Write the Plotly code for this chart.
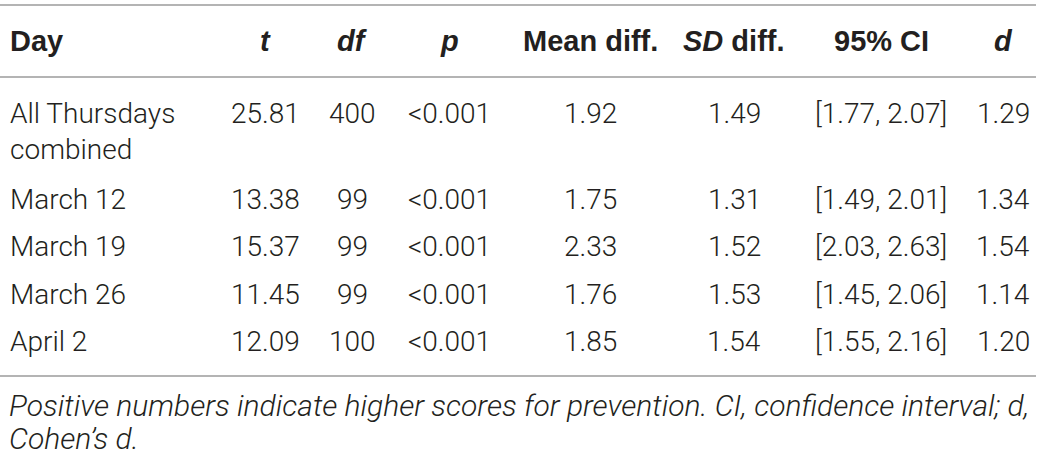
import plotly.graph_objects as go

# Table content
headers = ["Day", "<i>t</i>", "<i>df</i>", "<i>p</i>", "Mean diff.", "<i>SD</i> diff.", "95% CI", "<i>d</i>"]
days = ["All Thursdays<br>combined", "March 12", "March 19", "March 26", "April 2"]
t_vals = ["25.81", "13.38", "15.37", "11.45", "12.09"]
df_vals = ["400", "99", "99", "99", "100"]
p_vals = ["<0.001", "<0.001", "<0.001", "<0.001", "<0.001"]
mean_diff = ["1.92", "1.75", "2.33", "1.76", "1.85"]
sd_diff = ["1.49", "1.31", "1.52", "1.53", "1.54"]
ci_vals = ["[1.77, 2.07]", "[1.49, 2.01]", "[2.03, 2.63]", "[1.45, 2.06]", "[1.55, 2.16]"]
d_vals = ["1.29", "1.34", "1.54", "1.14", "1.20"]
note_lines = ["Positive numbers indicate higher scores for prevention. CI, confidence interval; d,",
              "Cohen\u2019s d."]

columns = [days, t_vals, df_vals, p_vals, mean_diff, sd_diff, ci_vals, d_vals]

# layout (pixel positions on a 1040x458 canvas)
W, H = 1040, 458
col_x = [8, 265, 352, 449, 590, 734, 881, 1003]
col_anchor = ["left"] + ["center"] * 7
header_y = 41
row_y = [113, 199, 246, 294, 341]   # centre of each row's first line
note_y = [405, 438]
rule_y = [5, 77, 376]

text_col = "#231f20"
rule_col = "#b4b4b4"
body_font = dict(family="Roboto", size=28, color=text_col, weight=300)
head_font = dict(family="Liberation Sans", size=29, color=text_col)
note_font = dict(family="Roboto", size=30, color=text_col, weight=300)
half_line = 0.65 * body_font["size"]

fig = go.Figure()
fig.add_scatter(x=[0, W], y=[0, H], mode="markers", marker=dict(opacity=0), hoverinfo="skip", showlegend=False)

annotations = []
for i, h in enumerate(headers):
    annotations.append(dict(x=col_x[i], y=header_y, text="<b>" + h + "</b>", xanchor=col_anchor[i],
                            yanchor="middle", showarrow=False, font=head_font, xref="x", yref="y"))

# cells are top-aligned so wrapped labels grow downwards
for i, col in enumerate(columns):
    for j, val in enumerate(col):
        annotations.append(dict(x=col_x[i], y=row_y[j] - half_line, text=val, xanchor=col_anchor[i],
                                yanchor="top", showarrow=False, font=body_font, xref="x", yref="y",
                                align="left"))

for k, line in enumerate(note_lines):
    annotations.append(dict(x=7, y=note_y[k], text="<i>" + line + "</i>", xanchor="left", yanchor="middle",
                            showarrow=False, font=note_font, xref="x", yref="y"))

shapes = [dict(type="line", x0=0, x1=1036, y0=y, y1=y, xref="x", yref="y",
               line=dict(color=rule_col, width=2)) for y in rule_y]

fig.update_layout(width=W, height=H, margin=dict(l=0, r=0, t=0, b=0),
                  paper_bgcolor="white", plot_bgcolor="white",
                  xaxis=dict(range=[0, W], visible=False, fixedrange=True),
                  yaxis=dict(range=[H, 0], visible=False, fixedrange=True),
                  annotations=annotations, shapes=shapes, showlegend=False)

# drop the default 8px page margin so the figure fills the window
fig.write_html("out.html", config={"displayModeBar": False},
               post_script="document.body.style.margin='0';")
